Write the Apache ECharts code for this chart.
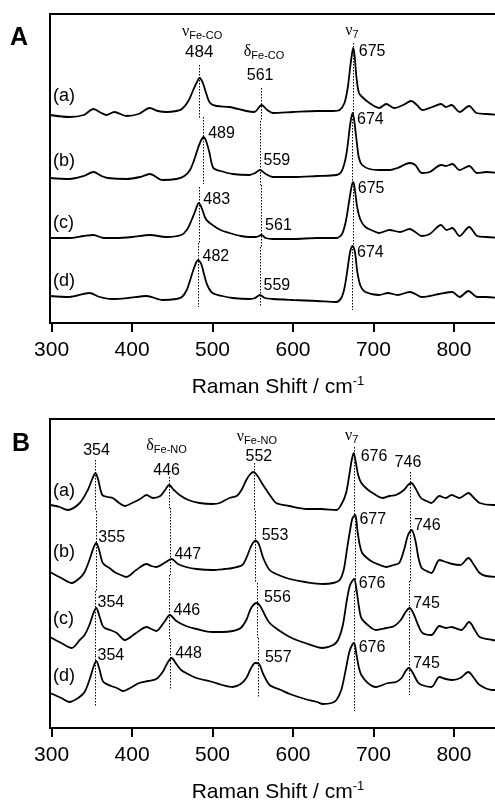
<!DOCTYPE html>
<html>
<head>
<meta charset="utf-8">
<script src="https://cdn.jsdelivr.net/npm/echarts@6/dist/echarts.min.js"></script>
<style>
  html, body { margin: 0; padding: 0; background: #fff; }
  #chart { width: 495px; height: 804px; }
</style>
</head>
<body>
<div id="chart"></div>
<script>
// tick values on both x axes
const xTicks = [300, 400, 500, 600, 700, 800]
const traceTags = ['(a)', '(b)', '(c)', '(d)']

// panel A (Fe-CO), intensity in arb. units, offset traces
const ramanA1 = [[298,208],[322,206],[340,208],[352,214],[362,210],[368,208],[378,211],[393,207],[408,209],[422,215],[432,212],[443,211],[455,212],[462,214],[470,222],[476,233],[480,240],[484,245],[488,240],[492,230],[497,220],[505,217],[521,216],[542,212],[552,211],[561,218],[568,213],[575,210],[600,211],[630,212],[650,212],[658,213],[664,220],[668,235],[671,255],[673.5,270],[675,275],[676.5,268],[679,245],[682,230],[686,226],[695,220],[707,215],[716,219],[726,215],[737,218],[747,222],[754,218],[761,213],[773,216],[784,219],[790,216],[797,218],[807,211],[819,217],[828,210],[840,209],[857,208]]
const ramanA2 = [[298,145],[322,144],[340,147],[352,151],[362,147],[370,145],[393,144],[410,146],[422,149],[438,143],[455,144],[465,147],[472,153],[478,165],[482,175],[486,183],[489,186],[492,182],[496,171],[501,155],[510,152],[525,149],[546,148],[553,150],[559,153],[566,149],[575,146],[600,146],[630,147],[654,148],[660,151],[665,163],[668,178],[671,198],[674,210],[676,203],[679,183],[682,165],[686,158],[695,154],[707,153],[720,153],[730,155],[745,160],[752,158],[760,150],[770,151],[784,158],[790,157],[798,159],[807,153],[819,157],[829,150],[840,151],[857,150]]
const ramanA3 = [[298,85],[322,85],[340,87],[352,88],[365,85],[380,85],[400,86],[422,88],[443,86],[461,88],[468,93],[474,103],[478,111],[483,120],[487,114],[491,105],[495,101],[500,98],[510,93],[521,90],[535,87],[546,86],[554,86],[561,88],[566,85],[575,84],[600,84],[630,85],[654,85],[661,89],[666,103],[670,123],[673,137],[675,141],[677,133],[680,115],[684,103],[690,96],[700,92],[707,90],[720,93],[733,91],[745,94],[752,91],[760,87],[770,89],[784,98],[791,93],[798,95],[807,87],[819,96],[829,87],[840,86],[857,85]]
const ramanA4 = [[298,27],[322,26],[347,30],[360,26],[375,24],[395,25],[418,27],[438,23],[455,24],[462,26],[468,33],[473,45],[477,55],[482,63],[486,59],[490,47],[494,37],[500,30],[512,27],[525,25],[546,24],[553,25],[559,28],[565,25],[575,24],[600,23],[630,22],[654,21],[660,25],[664,35],[668,55],[671,71],[674,77],[677,71],[680,51],[684,37],[690,31],[707,28],[718,30],[730,28],[745,31],[752,29],[760,26],[770,27],[782,29],[798,31],[807,26],[818,32],[829,26],[840,26],[857,25]]
const peaksA = [[484, 561, 675], [489, 559, 674], [483, 561, 675], [482, 559, 674]]

// panel B (Fe-NO)
const ramanB1 = [[298,223],[310,221],[320,218],[335,225],[345,238],[350,248],[354.5,255],[358,248],[363,233],[370,231],[376,230],[384,225],[391,222],[400,225],[410,229],[418,233],[426,230],[435,232],[441,238],[446,243],[452,238],[459,233],[470,228],[484,225],[500,224],[509,225],[521,230],[530,232],[536,238],[542,248],[547,254],[551,256],[556,252],[562,244],[567,238],[573,231],[579,225],[595,222],[617,219],[635,219],[654,218],[661,225],[666,235],[670,253],[673,268],[675.5,275],[678,266],[681,253],[685,245],[692,239],[699,235],[711,230],[720,232],[728,233],[738,238],[743,243],[747,245],[752,240],[759,230],[766,227],[772,225],[782,232],[790,230],[797,233],[807,230],[818,235],[825,230],[832,225],[848,223],[857,223]]
const ramanB2 = [[298,156],[312,150],[325,145],[335,150],[341,156],[347,168],[352,180],[355.5,185],[359,178],[363,166],[366,163],[372,160],[378,156],[386,153],[393,151],[405,158],[418,164],[424,162],[430,161],[440,165],[449,169],[457,164],[467,161],[480,159],[500,158],[515,159],[525,160],[537,163],[542,170],[547,180],[551,186],[554,187],[558,183],[563,170],[571,158],[582,153],[596,149],[615,146],[637,144],[650,145],[658,148],[663,158],[667,178],[671,198],[674,210],[677.5,213],[680,198],[683,183],[686,175],[692,170],[699,166],[708,163],[716,161],[725,163],[732,165],[738,178],[743,193],[747.5,198],[752,188],[756,170],[760,160],[766,157],[772,155],[782,168],[790,166],[798,164],[808,163],[818,170],[825,163],[832,155],[840,152],[857,151]]
const ramanB3 = [[298,91],[312,85],[325,80],[335,88],[341,93],[347,103],[352,115],[355.5,120],[359,113],[363,103],[366,100],[373,98],[381,95],[391,88],[405,95],[418,101],[424,99],[430,97],[440,106],[447,113],[455,107],[467,102],[480,99],[500,96],[512,96],[525,97],[535,100],[542,108],[548,120],[555,125],[560,121],[565,113],[571,105],[582,98],[596,91],[615,85],[637,80],[650,83],[656,88],[662,103],[667,128],[671,143],[676,149],[679,138],[682,121],[685,110],[693,103],[703,98],[716,100],[726,102],[734,108],[740,116],[745,120],[750,114],[756,102],[761,95],[772,93],[782,102],[790,100],[797,101],[809,98],[819,106],[826,98],[832,91],[848,88],[857,87]]
const ramanB4 = [[298,35],[312,30],[322,26],[333,30],[341,36],[347,48],[352,61],[355.5,67],[359,60],[363,48],[366,45],[374,42],[381,40],[389,37],[400,41],[409,45],[420,47],[430,49],[438,56],[444,65],[449,70],[455,64],[461,58],[467,55],[480,50],[500,46],[512,43],[525,41],[535,44],[542,50],[548,60],[553,65],[558,64],[563,54],[571,43],[585,38],[596,34],[615,29],[630,26],[637,24],[648,25],[654,28],[660,38],[665,56],[670,76],[673.5,83],[676,85],[679,73],[682,60],[685,53],[693,45],[703,41],[718,45],[728,46],[735,50],[740,57],[744,60],[749,55],[755,46],[760,43],[772,41],[782,51],[790,49],[798,48],[808,50],[818,56],[825,50],[832,43],[848,38],[857,38]]
const peaksB = [[354, 446, 552, 676, 746], [355, 447, 553, 677, 746], [354, 446, 556, 676, 745], [354, 448, 557, 676, 745]]

const FONT = '"Liberation Sans", Arial, sans-serif'
const GREEK = '"Liberation Serif", "DejaVu Serif", serif'

// where the peak labels sit, in px from the peak top
const layoutA = {
    first: [[0, -25, 'center', 17], [-1, -29, 'center', 16], [6, 4, 'left', 16]],
    side: [[5, -3], [4, -9], [5, 7]],
    head: [['{g|ν}{s|Fe-CO}', 3, -45], ['{g|δ}{s|Fe-CO}', 3, -52], ['{g|ν}{s|7}', -1, -16]],
    topGap: [13, 17, 5]
}
const layoutB = {
    first: [[2, -22, 'center', 16], [-2, -14, 'center', 16], [5, -15, 'center', 16], [7, 4, 'left', 16], [-2, -20, 'center', 16]],
    side: [[3, -5], [5, -4], [7, -5], [5, 5], [4, -4]],
    head: [null, ['{g|δ}{s|Fe-NO}', -2, -38], ['{g|ν}{s|Fe-NO}', 3, -34], ['{g|ν}{s|7}', -2, -16], null],
    topGap: [13, 8, 9, 6, 11]
}

const greekRich = {
    g: { fontFamily: GREEK, fontSize: 16, lineHeight: 18, verticalAlign: 'top', color: '#000' },
    s: { fontFamily: FONT, fontSize: 11, lineHeight: 11, verticalAlign: 'bottom', color: '#000' }
}

function localMin(data, x, w) {
    let m = Infinity
    data.forEach((p) => { if (Math.abs(p[0] - x) <= w && p[1] < m) m = p[1] })
    return m
}
function tipAt(data, x) {
    let m = -Infinity
    data.forEach((p) => { if (Math.abs(p[0] - x) <= 4 && p[1] > m) m = p[1] })
    return m
}

function buildPanel(traces, peaks, layout, gi) {
    return traces.map((data, i) => {
        const lines = []
        const points = []
        peaks[i].forEach((px, j) => {
            const tip = tipAt(data, px)
            const top = i === 0 ? tip + layout.topGap[j] : localMin(traces[i - 1], px, 30) - 8
            const bottom = localMin(data, px, 30) - 8
            lines.push([{ coord: [px, top] }, { coord: [px, bottom] }])
            const off = i === 0 ? layout.first[j] : layout.side[j]
            points.push({
                coord: [px, tip],
                label: {
                    formatter: String(px),
                    position: [off[0], off[1]],
                    align: off[2] || 'left',
                    fontSize: off[3] || 16
                }
            })
            const head = i === 0 ? layout.head[j] : null
            if (head) {
                points.push({
                    coord: [px, tip],
                    label: { formatter: head[0], position: [head[1], head[2]], align: 'center', rich: greekRich }
                })
            }
        })
        return {
            type: 'line',
            xAxisIndex: gi,
            yAxisIndex: gi,
            data: data,
            showSymbol: false,
            smooth: 0.3,
            lineStyle: { color: '#000', width: 1.8 },
            markLine: {
                silent: true,
                symbol: ['none', 'none'],
                label: { show: false },
                lineStyle: { color: '#000', width: 1, type: [1.5, 1.5] },
                data: lines
            },
            markPoint: {
                silent: true,
                symbol: 'circle',
                symbolSize: 1,
                itemStyle: { color: 'rgba(0,0,0,0)' },
                label: {
                    show: true,
                    color: '#000',
                    fontFamily: FONT,
                    verticalAlign: 'middle'
                },
                data: points
            }
        }
    })
}

function xAxisFor(gi) {
    return {
        type: 'value',
        gridIndex: gi,
        min: 298,
        max: 857.3,
        axisLine: { lineStyle: { color: '#000', width: 2 } },
        axisTick: { customValues: xTicks, length: 9, lineStyle: { color: '#000', width: 2 } },
        axisLabel: { customValues: xTicks, fontSize: 21, color: '#000', margin: 17, fontFamily: FONT },
        splitLine: { show: false },
        name: 'Raman Shift / cm{sup|-1}',
        nameLocation: 'middle',
        nameGap: 52,
        nameTextStyle: {
            fontSize: 21, color: '#000', fontFamily: FONT, lineHeight: 24, padding: [0, 0, 0, 6],
            rich: { sup: { fontSize: 13, lineHeight: 13, verticalAlign: 'top', color: '#000', fontFamily: FONT } }
        }
    }
}
function yAxisFor(gi) {
    return {
        type: 'value',
        gridIndex: gi,
        min: 0,
        max: 309,
        axisLine: { show: true, lineStyle: { color: '#000', width: 2 } },
        axisTick: { show: false },
        axisLabel: { show: false },
        splitLine: { show: false }
    }
}

const tagTops = [[97, 162, 224, 282], [492, 553, 620, 677]]
const graphics = [
    { type: 'text', left: 10, top: 26, style: { text: 'A', font: 'bold 25px ' + FONT, fill: '#000' } },
    { type: 'text', left: 12, top: 432, style: { text: 'B', font: 'bold 25px ' + FONT, fill: '#000' } }
]
tagTops.forEach((col) => col.forEach((cy, i) => {
    graphics.push({
        type: 'text', left: 53, top: cy - 10,
        style: { text: traceTags[i], font: '18px ' + FONT, fill: '#000' }
    })
}))

const myChart = echarts.init(document.getElementById('chart'))
myChart.setOption({
    animation: false,
    backgroundColor: '#fff',
    grid: [
        { left: 50, top: 14, width: 450, height: 309, show: true, borderColor: '#000', borderWidth: 2, outerBoundsMode: 'none' },
        { left: 50, top: 419, width: 450, height: 309, show: true, borderColor: '#000', borderWidth: 2, outerBoundsMode: 'none' }
    ],
    xAxis: [xAxisFor(0), xAxisFor(1)],
    yAxis: [yAxisFor(0), yAxisFor(1)],
    series: [
        ...buildPanel([ramanA1, ramanA2, ramanA3, ramanA4], peaksA, layoutA, 0),
        ...buildPanel([ramanB1, ramanB2, ramanB3, ramanB4], peaksB, layoutB, 1)
    ],
    graphic: graphics
})
</script>
</body>
</html>
